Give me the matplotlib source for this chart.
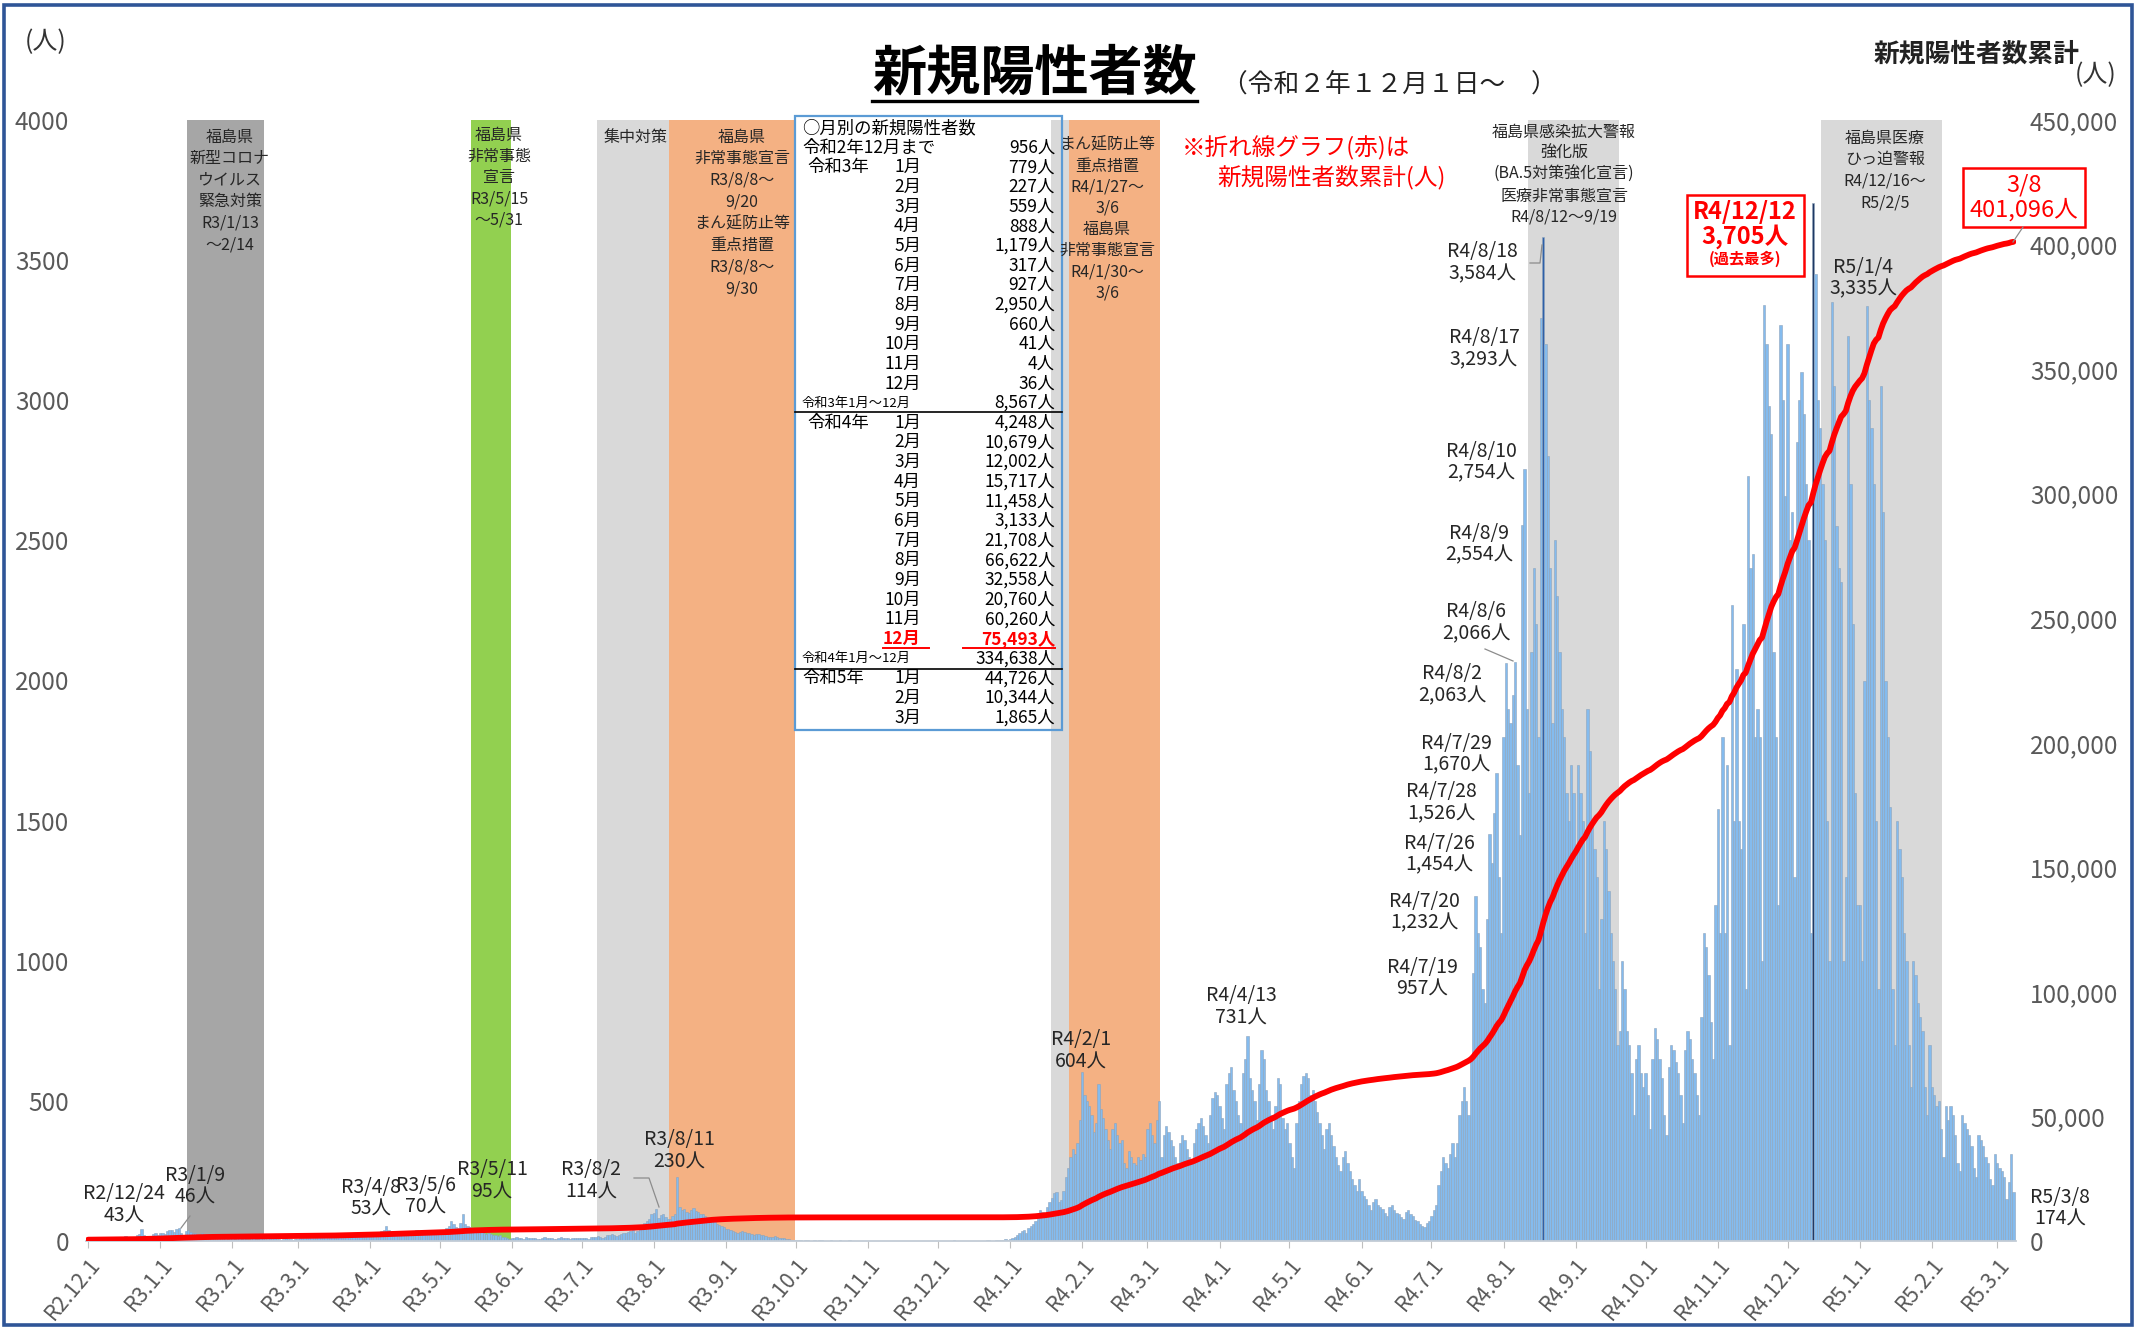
import numpy as np
import pandas as pd
import matplotlib
matplotlib.use("Agg")
import matplotlib.pyplot as plt
from matplotlib.patches import Rectangle
from matplotlib.lines import Line2D

plt.rcParams['font.family'] = ['Noto Sans CJK JP', 'DejaVu Sans']

# ---------------- data ----------------
start_date = '2020-12-01'
end_date = '2023-03-08'

# daily new positive cases, one list per month
d2020_12 = [5, 8, 6, 10, 12, 4, 3, 9, 11, 14, 10, 13, 6, 5, 12, 15, 18, 14, 16, 9,
            8, 20, 25, 43, 22, 18, 10, 17, 24, 28, 20]
d2021_01 = [28, 30, 25, 35, 38, 40, 33, 42, 46, 30, 22, 35, 38, 33, 30, 28, 18, 20, 27, 25,
            22, 20, 18, 12, 10, 15, 14, 12, 10, 8, 15]
d2021_02 = [10, 8, 12, 9, 7, 11, 6, 5, 9, 10, 8, 7, 12, 9, 6, 8, 10, 7, 9, 8,
            6, 5, 7, 9, 8, 6, 5, 7]
d2021_03 = [8, 10, 12, 9, 14, 16, 11, 10, 15, 18, 20, 17, 12, 14, 19, 22, 25, 21, 16, 13,
            20, 24, 28, 26, 22, 18, 17, 25, 27, 24, 27]
d2021_04 = [25, 30, 28, 22, 26, 35, 40, 53, 38, 30, 24, 28, 32, 36, 30, 27, 25, 22, 30, 34,
            38, 32, 28, 24, 24, 28, 26, 25, 24, 24]
d2021_05 = [40, 35, 30, 45, 55, 70, 60, 50, 48, 65, 95, 62, 55, 50, 45, 40, 38, 38, 32, 28,
            25, 28, 26, 22, 20, 18, 20, 16, 13, 10, 8]
d2021_06 = [12, 10, 14, 11, 9, 8, 13, 12, 10, 11, 9, 7, 8, 12, 14, 11, 10, 9, 8, 7,
            12, 13, 11, 10, 9, 8, 12, 11, 10, 9]
d2021_07 = [10, 12, 9, 8, 14, 15, 16, 18, 14, 12, 13, 20, 22, 24, 21, 18, 20, 25, 28, 30,
            32, 35, 38, 30, 34, 45, 50, 65, 72, 80, 97]
d2021_08 = [100, 114, 83, 93, 98, 86, 80, 78, 88, 96, 230, 120, 110, 115, 105, 100, 112, 118, 108, 102,
            96, 98, 90, 85, 80, 75, 70, 62, 58, 55, 50]
d2021_09 = [44, 42, 38, 36, 33, 28, 32, 36, 32, 30, 28, 25, 20, 24, 26, 22, 20, 18, 15, 14,
            16, 18, 15, 12, 10, 9, 8, 6, 5, 4]
d2021_10 = [3, 2, 4, 1, 2, 3, 1, 0, 2, 1, 3, 2, 1, 0, 1, 2, 1, 0, 1, 2,
            1, 1, 0, 2, 1, 0, 1, 1, 0, 1, 0]
d2021_11 = [0, 1, 0, 0, 0, 0, 1, 0, 0, 0, 0, 0, 0, 0, 0, 1, 0, 0, 0, 0,
            0, 0, 0, 1, 0, 0, 0, 0, 0, 0]
d2021_12 = [0, 0, 1, 0, 0, 0, 0, 2, 1, 0, 0, 0, 0, 1, 0, 0, 0, 0, 0, 0,
            0, 2, 3, 1, 0, 2, 3, 4, 5, 6, 5]
d2022_01 = [8, 10, 15, 20, 28, 35, 40, 30, 45, 55, 62, 70, 90, 110, 105, 88, 120, 140, 155, 170,
            175, 140, 145, 180, 230, 260, 300, 330, 310, 350, 432]
d2022_02 = [604, 520, 500, 480, 450, 390, 420, 560, 470, 440, 400, 360, 330, 400, 420, 380, 350, 360, 280, 260,
            320, 300, 280, 270, 300, 290, 310, 300]
d2022_03 = [400, 420, 380, 350, 430, 500, 300, 380, 410, 390, 360, 340, 300, 280, 350, 380, 360, 330, 300, 280,
            350, 400, 420, 440, 410, 380, 350, 450, 510, 532, 520]
d2022_04 = [480, 440, 400, 560, 600, 620, 540, 500, 450, 420, 600, 650, 731, 580, 540, 500, 430, 560, 680, 650,
            540, 500, 450, 400, 480, 580, 560, 440, 400, 420]
d2022_05 = [350, 300, 260, 420, 500, 560, 590, 600, 580, 520, 540, 500, 460, 420, 380, 330, 400, 420, 380, 340,
            300, 270, 250, 300, 320, 280, 250, 220, 200, 180, 220]
d2022_06 = [180, 160, 150, 130, 110, 140, 150, 130, 120, 115, 100, 90, 120, 130, 110, 100, 95, 85, 80, 105,
            110, 95, 90, 75, 70, 60, 55, 50, 65, 70]
d2022_07 = [90, 110, 130, 200, 250, 300, 280, 260, 310, 350, 300, 350, 450, 500, 550, 500, 450, 650, 957, 1232,
            1100, 1050, 900, 850, 1150, 1454, 1350, 1526, 1670, 1300, 1100]
d2022_08 = [1800, 2063, 1900, 1850, 1950, 2066, 1700, 1450, 2554, 2754, 1900, 1600, 2100, 2400, 2200, 1800,
            3293, 3584, 3200, 2800, 2400, 1850, 2500, 2300, 2100, 1900, 1800, 1600, 1500, 1700, 1600]
d2022_09 = [1400, 1700, 1600, 1500, 1100, 1900, 1750, 1500, 1400, 1300, 900, 1150, 1500, 1400, 1250, 1100,
            1000, 900, 700, 750, 1000, 900, 750, 700, 600, 450, 650, 700, 600, 550]
d2022_10 = [600, 520, 400, 650, 760, 720, 650, 580, 450, 380, 620, 700, 680, 640, 600, 520, 420, 680, 750, 720,
            650, 600, 520, 450, 800, 1100, 1050, 950, 780, 650, 1200]
d2022_11 = [1540, 1100, 1800, 1100, 1700, 700, 2270, 1500, 2040, 1500, 1400, 2200, 900, 2730, 2400, 2450,
            1800, 1900, 1800, 1000, 3340, 3200, 2980, 2880, 2100, 1800, 1200, 3270, 3000, 2660]
d2022_12 = [3200, 2500, 2600, 1300, 2850, 3000, 3100, 2950, 2700, 2500, 1100, 3705, 3450, 3000, 2900, 2700,
            2500, 1500, 1000, 3350, 3050, 2550, 2400, 2350, 1000, 1300, 3230, 2700, 2200, 1600, 1200]
d2023_01 = [1200, 1000, 2000, 3335, 3000, 2900, 2700, 1500, 900, 3050, 2600, 2000, 1800, 1550, 900, 700,
            1500, 1400, 1300, 1100, 1000, 700, 550, 1000, 950, 850, 800, 750, 550, 450, 700]
d2023_02 = [550, 520, 480, 500, 400, 300, 480, 430, 480, 450, 380, 280, 250, 450, 420, 400, 380, 340, 260, 230,
            380, 360, 340, 300, 280, 220, 200, 310]
d2023_03 = [280, 260, 250, 230, 150, 210, 311, 174]

# cumulative total up to the end of R2.12 (from the monthly table)
cum_to_2012 = 956

# highlighted bars
highlight_dates = ['2022-08-18', '2022-12-12']

# x-axis labels (first of each month)
month_labels = ['R2.12.1', 'R3.1.1', 'R3.2.1', 'R3.3.1', 'R3.4.1', 'R3.5.1', 'R3.6.1',
                'R3.7.1', 'R3.8.1', 'R3.9.1', 'R3.10.1', 'R3.11.1', 'R3.12.1',
                'R4.1.1', 'R4.2.1', 'R4.3.1', 'R4.4.1', 'R4.5.1', 'R4.6.1', 'R4.7.1',
                'R4.8.1', 'R4.9.1', 'R4.10.1', 'R4.11.1', 'R4.12.1', 'R5.1.1', 'R5.2.1', 'R5.3.1']

# shaded periods
period_start = ['2021-01-13', '2021-05-15', '2021-07-08', '2021-08-08',
                '2022-01-19', '2022-01-27', '2022-08-12', '2022-12-16']
period_end = ['2021-02-14', '2021-05-31', '2021-08-07', '2021-09-30',
              '2022-01-26', '2022-03-06', '2022-09-19', '2023-02-05']
period_color = ['#a6a6a6', '#92d050', '#d9d9d9', '#f4b183',
                '#d9d9d9', '#f4b183', '#d9d9d9', '#d9d9d9']

# monthly table
r3_months = ['1月', '2月', '3月', '4月', '5月', '6月', '7月', '8月', '9月', '10月', '11月', '12月']
r3_vals = [779, 227, 559, 888, 1179, 317, 927, 2950, 660, 41, 4, 36]
r4_vals = [4248, 10679, 12002, 15717, 11458, 3133, 21708, 66622, 32558, 20760, 60260, 75493]
r5_months = ['1月', '2月', '3月']
r5_vals = [44726, 10344, 1865]

# ---------------- figure ----------------
W, H = 2136, 1329
fig = plt.figure(figsize=(W / 100, H / 100), dpi=100)
fig.patch.set_facecolor('white')


def fx(x):
    return x / W


def fy(y):
    return 1 - y / H


def ftext(x, y, s, **kw):
    kw.setdefault('ha', 'center')
    kw.setdefault('va', 'center')
    return fig.text(fx(x), fy(y), s, **kw)


def flines(x, y0, pitch, lines, **kw):
    for i, s in enumerate(lines):
        ftext(x, y0 + i * pitch, s, **kw)


def fline(pts, **kw):
    xs = [fx(p[0]) for p in pts]
    ys = [fy(p[1]) for p in pts]
    fig.add_artist(Line2D(xs, ys, transform=fig.transFigure, **kw))


dates = pd.date_range(start_date, end_date, freq='D')
daily = np.concatenate([d2020_12, d2021_01, d2021_02, d2021_03, d2021_04, d2021_05,
                        d2021_06, d2021_07, d2021_08, d2021_09, d2021_10, d2021_11,
                        d2021_12, d2022_01, d2022_02, d2022_03, d2022_04, d2022_05,
                        d2022_06, d2022_07, d2022_08, d2022_09, d2022_10, d2022_11,
                        d2022_12, d2023_01, d2023_02, d2023_03])
assert len(daily) == len(dates)
x = np.arange(len(dates))
cum = cum_to_2012 - sum(d2020_12) + np.cumsum(daily)

t0 = pd.Timestamp(start_date)


def idx(d):
    return (pd.Timestamp(d) - t0).days


ax = fig.add_axes([fx(86), fy(1241), (2016 - 86) / W, (1241 - 120) / H])
ax.patch.set_visible(False)

for s, e, c in zip(period_start, period_end, period_color):
    ax.axvspan(idx(s) - 0.5, idx(e) + 0.5, color=c, lw=0, zorder=1)

colors = np.array(['#84bbee'] * len(x), dtype=object)
colors[idx(highlight_dates[0])] = '#2e5fa8'
colors[idx(highlight_dates[1])] = '#1f3864'
ax.bar(x, daily, width=1.0, color=list(colors), edgecolor='#8ea4bb', linewidth=0.4, zorder=2)

ax.set_xlim(-0.9, 828.1)
ax.set_ylim(0, 4000)
ax.set_yticks(np.arange(0, 4001, 500))
ax.tick_params(axis='y', length=0, pad=12, labelsize=17.5, labelcolor='#595959')

month_pos = x[dates.day == 1]
ax.set_xticks(month_pos)
ax.set_xticklabels(month_labels, rotation=50, ha='right', va='top', rotation_mode='anchor',
                   fontsize=15.5, color='#595959')
ax.tick_params(axis='x', length=5, color='#bfbfbf', pad=4)
for sp in ['top', 'left', 'right']:
    ax.spines[sp].set_visible(False)
ax.spines['bottom'].set_color('#c3ccd6')
ax.spines['bottom'].set_linewidth(1.3)

ax2 = ax.twinx()
ax2.plot(x, cum, color='#ff0000', lw=4.2, solid_capstyle='round', zorder=5)
ax2.set_ylim(0, 450000)
ax2.set_yticks(np.arange(0, 450001, 50000))
ax2.set_yticklabels([f'{v:,}' for v in np.arange(0, 450001, 50000)])
ax2.tick_params(axis='y', length=0, pad=10, labelsize=17.5, labelcolor='#595959')
for sp in ax2.spines.values():
    sp.set_visible(False)

# ---------------- titles ----------------
ftext(1034, 74, '新規陽性者数', fontsize=39, fontweight='bold', color='black')
fline([(872, 101), (1197, 101)], color='black', lw=2.4)
ftext(1222, 85, '（令和２年１２月１日～　）', fontsize=18.5, ha='left', color='#222222')
ftext(46, 42, '(人)', fontsize=18, color='#333333')
ftext(1977, 54, '新規陽性者数累計', fontsize=18.5, fontweight='bold', color='#222222')
ftext(2096, 75, '(人)', fontsize=18, color='#333333')
ftext(1182, 148, '※折れ線グラフ(赤)は', fontsize=17, ha='left', color='#ff0000')
ftext(1217, 178, '新規陽性者数累計(人)', fontsize=17, ha='left', color='#ff0000')

# ---------------- period notes ----------------
pk = dict(fontsize=11.5, color='#262626')
flines(230, 137, 21.6, ['福島県', '新型コロナ', 'ウイルス', '緊急対策', 'R3/1/13', '～2/14'], **pk)
flines(499, 135, 21.3, ['福島県', '非常事態', '宣言', 'R3/5/15', '～5/31'], **pk)
ftext(636, 137, '集中対策', **pk)
flines(742, 137, 21.7, ['福島県', '非常事態宣言', 'R3/8/8～', '9/20', 'まん延防止等',
                        '重点措置', 'R3/8/8～', '9/30'], **pk)
flines(1107, 145, 21.1, ['まん延防止等', '重点措置', 'R4/1/27～', '3/6', '福島県',
                         '非常事態宣言', 'R4/1/30～', '3/6'], **pk)
flines(1564, 132, 21.3, ['福島県感染拡大警報', '強化版', '(BA.5対策強化宣言)', '医療非常事態宣言',
                         'R4/8/12～9/19'], **pk)
flines(1885, 138, 21.7, ['福島県医療', 'ひっ迫警報', 'R4/12/16～', 'R5/2/5'], **pk)

# ---------------- peak labels ----------------
peak_notes = [('R2/12/24', '43人', 124, 1194), ('R3/1/9', '46人', 195, 1175),
              ('R3/4/8', '53人', 371, 1187), ('R3/5/6', '70人', 426, 1185),
              ('R3/5/11', '95人', 492, 1170), ('R3/8/2', '114人', 591, 1170),
              ('R3/8/11', '230人', 679, 1140), ('R4/2/1', '604人', 1081, 1040),
              ('R4/4/13', '731人', 1241, 996), ('R4/7/19', '957人', 1422, 967),
              ('R4/7/20', '1,232人', 1424, 901), ('R4/7/26', '1,454人', 1439, 843),
              ('R4/7/28', '1,526人', 1441, 792), ('R4/7/29', '1,670人', 1456, 743),
              ('R4/8/2', '2,063人', 1452, 674), ('R4/8/6', '2,066人', 1476, 612),
              ('R4/8/9', '2,554人', 1479, 533), ('R4/8/10', '2,754人', 1481, 451),
              ('R4/8/17', '3,293人', 1484, 338), ('R4/8/18', '3,584人', 1482, 252),
              ('R5/1/4', '3,335人', 1863, 267), ('R5/3/8', '174人', 2060, 1197)]
for d, v, px, py in peak_notes:
    flines(px, py, 22, [d, v], fontsize=14, color='#262626')

lead = dict(color='#8c8c8c', lw=0.9)
fline([(634, 1178), (649, 1178), (659, 1207)], **lead)
fline([(1485, 649), (1513, 661)], **lead)
fline([(1530, 263), (1540, 263), (1542, 245)], **lead)
fline([(181, 1228), (190, 1216)], **lead)

# ---------------- red boxes ----------------
fig.add_artist(Rectangle((fx(1687), fy(276)), (1804 - 1687) / W, (276 - 195) / H,
                         transform=fig.transFigure, facecolor='white', edgecolor='#ff0000',
                         lw=1.8, zorder=2))
ftext(1745, 212, 'R4/12/12', fontsize=17, fontweight='bold', color='#ff0000', zorder=3)
ftext(1745, 237, '3,705人', fontsize=17, fontweight='bold', color='#ff0000', zorder=3)
ftext(1745, 259, '(過去最多)', fontsize=11, fontweight='bold', color='#ff0000', zorder=3)

fig.add_artist(Rectangle((fx(1963), fy(227)), (2085 - 1963) / W, (227 - 168) / H,
                         transform=fig.transFigure, facecolor='white', edgecolor='#ff0000',
                         lw=1.8, zorder=2))
ftext(2024, 185, '3/8', fontsize=17, color='#ff0000', zorder=3)
ftext(2024, 210, '401,096人', fontsize=17, color='#ff0000', zorder=3)
fline([(2023, 227), (2013, 242)], **lead)

# ---------------- monthly table ----------------
tx0, tx1, ty0, ty1 = 795, 1062, 116, 730
fig.add_artist(Rectangle((fx(tx0), fy(ty1)), (tx1 - tx0) / W, (ty1 - ty0) / H,
                         transform=fig.transFigure, facecolor='white', edgecolor='none', zorder=-1))
fig.add_artist(Rectangle((fx(tx0), fy(ty1)), (tx1 - tx0) / W, (ty1 - ty0) / H,
                         transform=fig.transFigure, facecolor='none', edgecolor='#5b9bd5',
                         lw=1.6, zorder=2))

row_y0, row_dy = 128, 19.65
col_lab, col_year, col_mon, col_val = 802, 807, 921, 1055
tk = dict(fontsize=12.5, color='black', zorder=3)


def ry(i):
    return row_y0 + i * row_dy


ftext(col_lab, ry(0), '○月別の新規陽性者数', ha='left', **tk)
ftext(col_lab, ry(1), '令和2年12月まで', ha='left', **tk)
ftext(col_val, ry(1), f'{cum_to_2012:,}人', ha='right', **tk)
ftext(col_year, ry(2), '令和3年', ha='left', **tk)
for i, (m, v) in enumerate(zip(r3_months, r3_vals)):
    ftext(col_mon, ry(2 + i), m, ha='right', **tk)
    ftext(col_val, ry(2 + i), f'{v:,}人', ha='right', **tk)
ftext(col_lab, ry(14), '令和3年1月～12月', ha='left', fontsize=9.5, color='black', zorder=3)
ftext(col_val, ry(14), f'{sum(r3_vals):,}人', ha='right', **tk)
fline([(tx0, 412.5), (tx1, 412.5)], color='black', lw=1.2)

ftext(col_year, ry(15), '令和4年', ha='left', **tk)
for i, (m, v) in enumerate(zip(r3_months, r4_vals)):
    if i == 11:
        ftext(col_mon, ry(15 + i), m, ha='right', fontsize=12.5, fontweight='bold',
              color='#ff0000', zorder=3)
        ftext(col_val, ry(15 + i), f'{v:,}人', ha='right', fontsize=12.5, fontweight='bold',
              color='#ff0000', zorder=3)
        fline([(883, ry(15 + i) + 9.5), (929, ry(15 + i) + 9.5)], color='#ff0000', lw=1.4)
        fline([(963, ry(15 + i) + 9.5), (1055, ry(15 + i) + 9.5)], color='#ff0000', lw=1.4)
    else:
        ftext(col_mon, ry(15 + i), m, ha='right', **tk)
        ftext(col_val, ry(15 + i), f'{v:,}人', ha='right', **tk)
ftext(col_lab, ry(27), '令和4年1月～12月', ha='left', fontsize=9.5, color='black', zorder=3)
ftext(col_val, ry(27), f'{sum(r4_vals):,}人', ha='right', **tk)
fline([(tx0, 669), (tx1, 669)], color='black', lw=1.2)

ftext(col_lab, ry(28), '令和5年', ha='left', **tk)
for i, (m, v) in enumerate(zip(r5_months, r5_vals)):
    ftext(col_mon, ry(28 + i), m, ha='right', **tk)
    ftext(col_val, ry(28 + i), f'{v:,}人', ha='right', **tk)

# outer frame
fig.add_artist(Rectangle((fx(4), fy(1325)), 2128 / W, 1320 / H, transform=fig.transFigure,
                         facecolor='none', edgecolor='#2f5597', lw=2.6, zorder=4))

fig.savefig('out.png', dpi=100)
